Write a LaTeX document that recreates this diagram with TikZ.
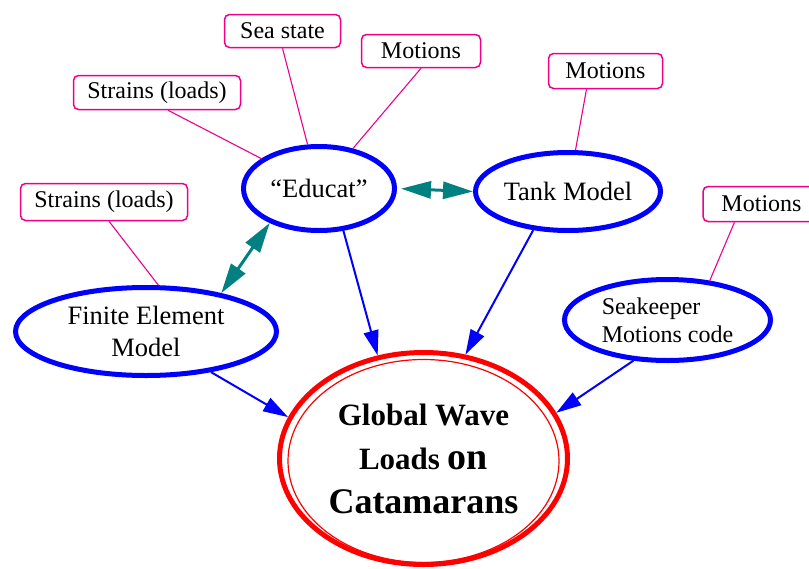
\documentclass[tikz,border=0pt]{standalone}
\usepackage{fontspec}
\setmainfont{Liberation Serif}
\usetikzlibrary{shapes.geometric,arrows.meta}
\definecolor{tealc}{RGB}{0,128,128}
\begin{document}
\begin{tikzpicture}[x=1pt,y=-1pt,
  lbl/.style={draw=magenta, line width=1.5pt, rounded corners=5pt, inner sep=0pt, font=\fontsize{24}{28}\selectfont, text=black},
  oval/.style={draw=blue, ellipse, line width=5pt, inner sep=0pt, font=\fontsize{26.5}{32}\selectfont, align=center},
  tie/.style={magenta, line width=1.1pt},
  feed/.style={blue, line width=2pt, -{Triangle[length=25pt,width=15pt]}},
  link/.style={tealc, line width=3pt, {Triangle[length=30pt,width=17pt]}-{Triangle[length=30pt,width=17pt]}}]
\useasboundingbox (0,0) rectangle (809,568);

% label boxes
\node[lbl, minimum width=116pt, minimum height=33pt] (seastate) at (282.5,31) {Sea state};
\node[lbl, minimum width=119pt, minimum height=33pt] (mot1) at (421,51) {Motions};
\node[lbl, minimum width=167pt, minimum height=34pt] (strains1) at (157,92.5) {Strains (loads)};
\node[lbl, minimum width=167pt, minimum height=37pt] (strains2) at (104,202) {Strains (loads)};
\node[lbl, minimum width=114pt, minimum height=35pt] (mot2) at (605.5,71) {Motions};
\node[lbl, minimum width=117pt, minimum height=35pt] (mot3) at (761.5,204) {Motions};

% ovals
\node[oval, minimum width=151pt, minimum height=84pt] (educat) at (319,188.5) {``Educat''};
\node[oval, minimum width=185pt, minimum height=78pt] (tank) at (568,191.5) {Tank Model};
\node[oval, minimum width=261pt, minimum height=88pt] (fe) at (146,331.5) {Finite Element\\Model};
\node[oval, minimum width=206pt, minimum height=81pt, align=left, font=\fontsize{24}{28}\selectfont] (seak) at (667.5,320) {Seakeeper\\Motions code};

% central node
\node[draw=red, ellipse, line width=1.2pt, minimum width=271pt, minimum height=203pt, inner sep=0pt] (inner) at (423.5,461) {};
\node[draw=red, ellipse, line width=5pt, minimum width=288pt, minimum height=212pt, inner sep=0pt, align=center, font=\fontsize{31}{44}\selectfont\bfseries] (global) at (423.5,458.5)
  {Global Wave\\Loads {\fontsize{38}{44}\selectfont on}\\{\fontsize{36}{44}\selectfont Catamarans}};

% label ties
\draw[tie] (seastate.south) -- (educat);
\draw[tie] (mot1.south) -- (educat);
\draw[tie] ([xshift=11pt]strains1.south) -- (educat);
\draw[tie] ([xshift=5pt]strains2.south) -- (fe.75);
\draw[tie] ([xshift=-19pt]mot2.south) -- (tank);
\draw[tie] ([xshift=-27pt]mot3.south) -- (seak.43);

% feeds
\draw[feed] (fe.-32) -- (global.163);
\draw[feed] (educat.-60) -- (global.114);
\draw[feed] (tank.228) -- (global.68);
\draw[feed] (seak.230) -- (global.19);

% two-way links
\draw[link, shorten <=4pt] (educat.east) -- (tank.west);
\draw[link] (educat.215) -- (fe.27);
\end{tikzpicture}
\end{document}
